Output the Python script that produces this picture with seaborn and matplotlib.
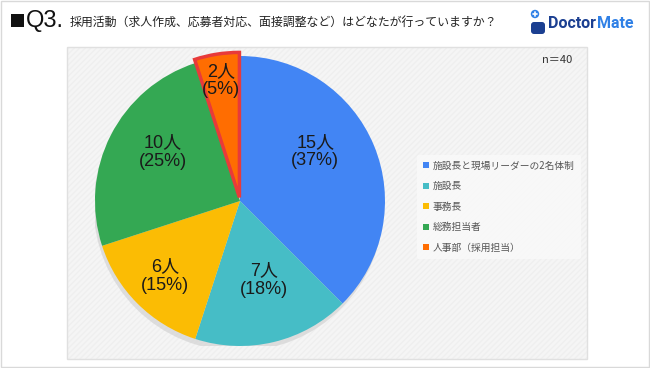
import matplotlib
matplotlib.use("Agg")
import matplotlib.pyplot as plt
import matplotlib.patches as mpatches
import numpy as np
import seaborn as sns

# ---- data ----
categories = ["施設長と現場リーダーの2名体制", "施設長", "事務長", "総務担当者", "人事部（採用担当）"]
counts = [15, 7, 6, 10, 2]
pct_labels = [37, 18, 15, 25, 5]
colors = ["#4285F4", "#46BDC6", "#FBBC04", "#34A853", "#FF6D01"]
title_q = "Q3."
title_text = "採用活動（求人作成、応募者対応、面接調整など）はどなたが行っていますか？"
n_text = "n＝40"

sns.set_theme(style="white")
plt.rcParams["font.family"] = ["Noto Sans CJK JP", "DejaVu Sans"]

W, H = 650, 368
fig = plt.figure(figsize=(W / 100, H / 100), dpi=100)
fig.patch.set_facecolor("white")

# background overlay axes in pixel coords (y from top)
bg = fig.add_axes([0, 0, 1, 1])
bg.set_xlim(0, W)
bg.set_ylim(H, 0)
bg.axis("off")
bg.add_patch(mpatches.Rectangle((0.5, 0.5), W - 1.5, H - 1.5, fill=False, ec="#d9d9d9", lw=1))
bg.add_patch(mpatches.Rectangle((67, 47), 520, 312, fc="#f5f5f5", ec="#efefef", lw=0,
                                hatch="//////", zorder=0))
bg.add_patch(mpatches.Rectangle((67, 47), 520, 312, fill=False, ec="#e0e0e0", lw=1, zorder=1))

# title
bg.add_patch(mpatches.Rectangle((11, 14), 13, 13, fc="#111111", ec="none"))
bg.text(26, 21, title_q, fontsize=17, va="center", ha="left", color="#111111",
        family=["Liberation Sans"], fontweight="light")
bg.text(70, 22, title_text, fontsize=8.6, va="center", ha="left", color="#222222")

# logo
bg.add_patch(mpatches.FancyBboxPatch((531, 22), 14, 12, boxstyle="round,pad=0,rounding_size=3",
                                     fc="#1b3f91", ec="none"))
bg.add_patch(mpatches.Circle((535, 14), 4.2, fc="#2f80e6", ec="none"))
bg.plot([533, 537], [14, 14], color="white", lw=1.2)
bg.plot([535, 535], [12, 16], color="white", lw=1.2)
t1 = bg.text(548, 23, "Doctor", fontsize=11.5, fontweight="bold", color="#1b3f91",
             va="center", ha="left", family=["Roboto", "DejaVu Sans"])
fig.canvas.draw()
bb = t1.get_window_extent()
x_end = bb.x1
bg.text(x_end + 1, 23, "Mate", fontsize=11.5, fontweight="bold", color="#2f80e6",
        va="center", ha="left", family=["Roboto", "DejaVu Sans"])

# n label
bg.text(572, 60, n_text, fontsize=8, va="center", ha="right", color="#333333")

# pie axes
cx, cy, r = 240, 201, 145
ax = fig.add_axes([(cx - r) / W, (H - cy - r) / H, 2 * r / W, 2 * r / H])
ax.set_facecolor("none")
ax.add_patch(mpatches.Circle((-0.01, -0.035), 1.0, fc="#d3d3d3", ec="none", alpha=0.7, zorder=0))
wedges, _ = ax.pie(counts, colors=colors, startangle=90, counterclock=False,
                   explode=[0, 0, 0, 0, 0.025], radius=1.0,
                   wedgeprops=dict(linewidth=0))
wedges[-1].set_edgecolor("#e83a3a")
wedges[-1].set_linewidth(2.5)
wedges[-1].set_zorder(5)
ax.set_xlim(-1, 1)
ax.set_ylim(-1, 1)
ax.set_aspect("auto")
ax.axis("off")

# label placement: radius fraction and position along wedge measured from its start (clockwise)
label_r = [0.62, 0.57, 0.73, 0.63, 0.84]
label_frac = [0.42, 0.45, 0.5, 0.56, 0.5]
for w, c, p, lr, fr in zip(wedges, counts, pct_labels, label_r, label_frac):
    ang = np.deg2rad(w.theta2 - (w.theta2 - w.theta1) * fr)
    x, y = lr * np.cos(ang), lr * np.sin(ang)
    ax.text(x, y, f"{c}人\n({p}%)", ha="center", va="center", fontsize=13,
            color="#1a1a1a", linespacing=1.12, zorder=10,
            family=["Liberation Sans", "Noto Sans CJK JP"])

# legend
handles = [mpatches.Patch(fc=col, ec="none") for col in colors]
leg = fig.legend(handles, categories, loc="upper left", bbox_to_anchor=(412 / W, 1 - 150 / H),
                 frameon=True, fontsize=7.0, handlelength=0.6, handleheight=0.6,
                 handletextpad=0.45, labelspacing=1.08, borderpad=0.6)
leg.get_frame().set_facecolor("#fafafa")
leg.get_frame().set_edgecolor("none")
for t in leg.get_texts():
    t.set_color("#555555")

fig.savefig("out.png", dpi=100, facecolor="white")
